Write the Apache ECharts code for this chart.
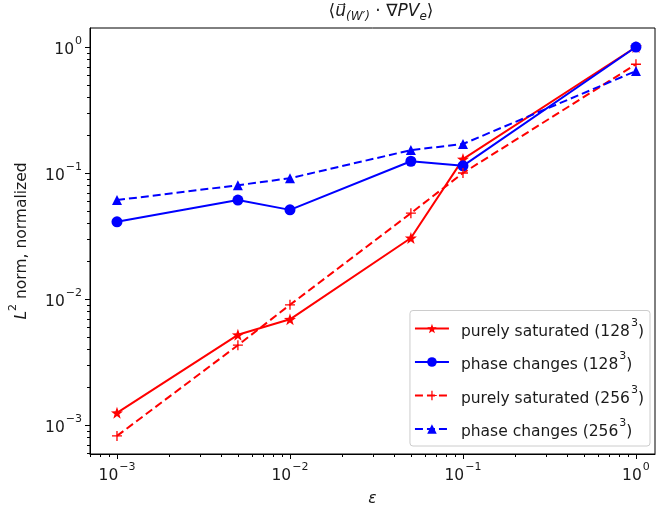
<!DOCTYPE html>
<html><head><meta charset="utf-8">
<script src="https://cdn.jsdelivr.net/npm/echarts@6/dist/echarts.min.js"></script>
<style>html,body{margin:0;padding:0;background:#fff}#c{width:658px;height:514px}</style>
</head><body><div id="c"></div>
<script>
// ---- data ----
const epsilon = [0.001, 0.005, 0.01, 0.05, 0.1, 1];
const pureSat128 = [0.00125, 0.0052, 0.0069, 0.0305, 0.129, 1.0];
const phase128 = [0.041, 0.061, 0.051, 0.124, 0.114, 1.0];
const pureSat256 = [0.00082, 0.0043, 0.0090, 0.048, 0.100, 0.73];
const phase256 = [0.061, 0.080, 0.091, 0.152, 0.170, 0.645];
const seriesNames = ['purely saturated (128³)', 'phase changes (128³)', 'purely saturated (256³)', 'phase changes (256³)'];
const legendLabels = ['{b|purely saturated (128}{s|3}{b|)}', '{b|phase changes (128}{s|3}{b|)}', '{b|purely saturated (256}{s|3}{b|)}', '{b|phase changes (256}{s|3}{b|)}'];
const titleText = '{ta|⟨}{ti|u\u20D7}{tsub|(W′)}{ta| \u00B7 \u2207}{ti|PV}{tsub|e}{ta|⟩}';
const xDecades = [-4, -3, -2, -1, 0];
const yDecades = [-4, -3, -2, -1, 0];
const minorMantissas = [2, 3, 4, 5, 6, 7, 8, 9];

// ---- axis ranges ----
const xMin = Math.pow(10, -3.156), xMax = Math.pow(10, 0.11);
const yMin = Math.pow(10, -3.23), yMax = Math.pow(10, 0.151);

const inRange = (v, lo, hi) => v >= lo * 0.9999 && v <= hi * 1.0001;
const xMajor = xDecades.map(e => Math.pow(10, e)).filter(v => inRange(v, xMin, xMax));
const yMajor = yDecades.map(e => Math.pow(10, e)).filter(v => inRange(v, yMin, yMax));
const xMinor = [], yMinor = [];
xDecades.forEach(e => minorMantissas.forEach(m => { const v = m * Math.pow(10, e); if (inRange(v, xMin, xMax)) xMinor.push(v); }));
yDecades.forEach(e => minorMantissas.forEach(m => { const v = m * Math.pow(10, e); if (inRange(v, yMin, yMax)) yMinor.push(v); }));

const FONT = 'DejaVu Sans';
const FS = 15.5, SFS = 11;
const TXT = '#1a1a1a';
const supRich = {
  b: { fontSize: FS, fontFamily: FONT, color: TXT, lineHeight: 22, verticalAlign: 'bottom' },
  s: { fontSize: SFS, fontFamily: FONT, color: TXT, lineHeight: 22, verticalAlign: 'top', padding: [0, 0, 0, 1] }
};
function powLabel(v) {
  const l = Math.log10(v);
  const e = Math.round(l);
  if (Math.abs(l - e) > 1e-6) return '';
  return '{b|10}{s|' + (e < 0 ? '\u2212' + (-e) : String(e)) + '}';
}

function tickSeries(axis, values, len) {
  return {
    type: 'custom', silent: true, clip: false, z: 5,
    data: values.map(v => axis === 'x' ? [v, 1] : [0.01, v]),
    encode: { x: 0, y: 1 },
    renderItem: (params, api) => {
      const cs = params.coordSys;
      const p = api.coord([api.value(0), api.value(1)]);
      if (axis === 'x') {
        const x = Math.round(p[0]) + 0.5;
        return { type: 'line', shape: { x1: x, y1: cs.y + cs.height, x2: x, y2: cs.y + cs.height + len }, style: { stroke: '#000', lineWidth: 1 } };
      }
      const y = Math.round(p[1]) + 0.5;
      return { type: 'line', shape: { x1: cs.x, y1: y, x2: cs.x - len, y2: y }, style: { stroke: '#000', lineWidth: 1 } };
    }
  };
}

const star = 'path://M0,-10 L2.35,-3.24 L9.51,-3.09 L3.8,1.24 L5.88,8.09 L0,4 L-5.88,8.09 L-3.8,1.24 L-9.51,-3.09 L-2.35,-3.24 Z';
const plus = 'path://M-1.3,-10 H1.3 V-1.3 H10 V1.3 H1.3 V10 H-1.3 V1.3 H-10 V-1.3 H-1.3 Z';

function lineSeries(name, vals, color, dashed, symbol, size) {
  return {
    name, type: 'line', data: epsilon.map((x, i) => [x, vals[i]]),
    symbol, symbolSize: size, showSymbol: true,
    lineStyle: { color, width: 2, type: dashed ? [8, 4] : 'solid' },
    itemStyle: { color, borderWidth: 0 },
    emphasis: { disabled: true }, animation: false, z: 3
  };
}

const chart = echarts.init(document.getElementById('c'), null, { renderer: 'canvas' });
chart.setOption({
  animation: false,
  backgroundColor: '#fff',
  title: {
    text: titleText,
    left: 381, top: 1, textAlign: 'center', padding: 0,
    textStyle: {
      fontSize: 17, fontFamily: FONT, fontWeight: 'normal', color: TXT, lineHeight: 22,
      rich: {
        ta: { fontSize: 17, fontFamily: FONT, fontWeight: 'normal', color: TXT, lineHeight: 22, verticalAlign: 'middle' },
        ti: { fontSize: 17, fontFamily: FONT, fontWeight: 'normal', fontStyle: 'italic', color: TXT, lineHeight: 22, verticalAlign: 'middle' },
        tsub: { fontSize: 12, fontFamily: FONT, fontWeight: 'normal', fontStyle: 'italic', color: TXT, lineHeight: 22, verticalAlign: 'bottom' }
      }
    }
  },
  grid: { left: 89, right: 3, top: 28, bottom: 60, show: true, borderColor: '#000', borderWidth: 1, backgroundColor: 'transparent' },
  legend: {
    data: seriesNames, orient: 'vertical', right: 8, bottom: 68,
    itemWidth: 34, itemHeight: 12, itemGap: 11.5,
    padding: [7, 6, 6, 4],
    backgroundColor: 'rgba(255,255,255,0.85)', borderColor: '#ccc', borderWidth: 1, borderRadius: 3,
    formatter: name => legendLabels[seriesNames.indexOf(name)],
    textStyle: {
      fontSize: FS, fontFamily: FONT, color: TXT, padding: [0, 0, 0, 7],
      rich: supRich
    }
  },
  xAxis: {
    type: 'log', logBase: 10, min: xMin, max: xMax,
    name: 'ε', nameLocation: 'middle', nameGap: 37,
    nameTextStyle: { fontSize: FS, fontFamily: FONT, fontStyle: 'italic', color: TXT },
    axisLine: { show: true, lineStyle: { color: '#000', width: 1 } },
    axisTick: { show: false }, splitLine: { show: false }, minorTick: { show: false },
    axisLabel: { formatter: powLabel, margin: 8, rich: supRich, showMinLabel: false, showMaxLabel: false }
  },
  yAxis: {
    type: 'log', logBase: 10, min: yMin, max: yMax,
    name: '{i|L}{s|2}{n| norm, normalized}', nameLocation: 'middle', nameGap: 60, nameRotate: 90,
    nameTextStyle: {
      fontSize: FS, fontFamily: FONT, color: TXT,
      rich: {
        n: { fontSize: FS, fontFamily: FONT, color: TXT, lineHeight: 22, verticalAlign: 'bottom' },
        i: { fontSize: FS, fontFamily: FONT, fontStyle: 'italic', color: TXT, lineHeight: 22, verticalAlign: 'bottom' },
        s: { fontSize: SFS, fontFamily: FONT, color: TXT, lineHeight: 22, verticalAlign: 'top' }
      }
    },
    axisLine: { show: true, lineStyle: { color: '#000', width: 1 } },
    axisTick: { show: false }, splitLine: { show: false }, minorTick: { show: false },
    axisLabel: { formatter: powLabel, margin: 8, rich: supRich, showMinLabel: false, showMaxLabel: false }
  },
  series: [
    lineSeries(seriesNames[0], pureSat128, '#ff0000', false, star, 12),
    lineSeries(seriesNames[1], phase128, '#0000ff', false, 'circle', 11),
    lineSeries(seriesNames[2], pureSat256, '#ff0000', true, plus, 10),
    lineSeries(seriesNames[3], phase256, '#0000ff', true, 'triangle', 10),
    tickSeries('x', xMajor, 5),
    tickSeries('x', xMinor, 3),
    tickSeries('y', yMajor, 5),
    tickSeries('y', yMinor, 3)
  ]
});
</script></body></html>
